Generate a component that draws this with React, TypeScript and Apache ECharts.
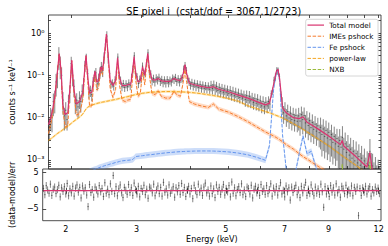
import React, { useEffect, useRef } from 'react';
import * as echarts from 'echarts';

const FONT = 'DejaVu Sans';
const X_MIN = 1.752, X_MAX = 12.16;
const Y_MIN = 6.1e-4, Y_MAX = 2.68;
const R_MIN = -8.3, R_MAX = 6;

const TITLE = 'SE pixel i  (cstat/dof = 3067.1/2723)';
const xTickLabels = [2, 3, 5, 7, 9, 12];
const xAllTicks = [2, 3, 4, 5, 6, 7, 8, 9, 10, 11, 12];
const yDecades = [1e-3, 1e-2, 1e-1, 1];
const residualTicks = [-5, 0, 5];
const legendNames = ['Total model', 'IMEs pshock', 'Fe pshock', 'power-law', 'NXB'];

const modelEnergy = [1.752, 1.78, 1.80, 1.82, 1.845, 1.865, 1.885, 1.905, 1.93, 1.96,
  1.985, 2.006, 2.03, 2.06, 2.10, 2.14, 2.165, 2.18, 2.20, 2.225,
  2.255, 2.285, 2.30, 2.32, 2.345, 2.375, 2.40, 2.43, 2.455, 2.48,
  2.51, 2.55, 2.59, 2.62, 2.65, 2.69, 2.74, 2.78, 2.83, 2.865,
  2.885, 2.91, 2.95, 2.99, 3.03, 3.07, 3.10, 3.125, 3.155, 3.20,
  3.26, 3.32, 3.38, 3.47, 3.56, 3.64, 3.70, 3.78, 3.84, 3.88,
  3.92, 3.98, 4.10, 4.26, 4.45, 4.58, 4.72, 5.0, 5.3, 5.6,
  5.9, 6.2, 6.35, 6.5, 6.6, 6.67, 6.74, 6.85, 7.0, 7.3,
  7.55, 7.72, 7.9, 8.1, 8.4, 9.0, 9.6, 9.7, 9.8, 10.5,
  11.2, 11.4, 11.55, 12.16];

const totalModel = [0.0068, 0.011, 0.018, 0.035, 0.12, 0.33, 0.13, 0.02, 0.0118, 0.013,
  0.05, 0.23, 0.05, 0.021, 0.024, 0.04, 0.15, 0.30, 0.10, 0.038,
  0.04, 0.10, 0.125, 0.07, 0.075, 0.16, 0.13, 0.35, 0.95, 0.30,
  0.075, 0.058, 0.075, 0.26, 0.09, 0.058, 0.057, 0.06, 0.062, 0.15,
  0.28, 0.12, 0.07, 0.075, 0.16, 0.10, 0.20, 0.33, 0.14, 0.08,
  0.077, 0.085, 0.074, 0.072, 0.072, 0.085, 0.078, 0.075, 0.11, 0.18,
  0.11, 0.065, 0.060, 0.055, 0.051, 0.054, 0.047, 0.041, 0.034, 0.029,
  0.024, 0.020, 0.022, 0.06, 0.12, 0.14, 0.08, 0.017, 0.013, 0.010,
  0.0095, 0.0105, 0.0078, 0.0068, 0.0055, 0.0036, 0.0023, 0.0029, 0.0021, 0.0012,
  0.00068, 0.0015, 0.0006, 0.0004];

const imesModel = [0.0042, 0.0078, 0.0145, 0.031, 0.115, 0.32, 0.125, 0.015, 0.006, 0.0065,
  0.043, 0.22, 0.042, 0.0115, 0.0125, 0.027, 0.135, 0.28, 0.082, 0.019,
  0.019, 0.078, 0.10, 0.045, 0.05, 0.135, 0.105, 0.32, 0.92, 0.27,
  0.048, 0.030, 0.046, 0.23, 0.059, 0.026, 0.024, 0.026, 0.027, 0.114,
  0.243, 0.083, 0.032, 0.036, 0.12, 0.06, 0.16, 0.29, 0.098, 0.038,
  0.035, 0.043, 0.032, 0.029, 0.029, 0.042, 0.035, 0.032, 0.068, 0.138,
  0.068, 0.024, 0.021, 0.019, 0.0175, 0.021, 0.016, 0.0135, 0.0105, 0.008,
  0.006, 0.0046, 0.0041, 0.0037, 0.0034, 0.0032, 0.003, 0.0027, 0.0023, 0.0018,
  0.0014, 0.0012, 0.00105, 0.0009, 0.00072, 0.00048, 0.00033, 0.00032, 0.0003, 0.0002,
  0.00014, 0.00013, 0.00012, 0.0001];

const fePshock = [0.00015, 0.00016, 0.00017, 0.00018, 0.00019, 0.0002, 0.00021, 0.00022, 0.00024, 0.00026,
  0.00028, 0.0003, 0.00032, 0.00035, 0.00039, 0.00043, 0.00046, 0.00048, 0.0005, 0.00053,
  0.00056, 0.00059, 0.0006, 0.00062, 0.00065, 0.00068, 0.0007, 0.00073, 0.00075, 0.00077,
  0.0008, 0.00083, 0.00087, 0.00089, 0.00092, 0.00095, 0.00097, 0.00098, 0.001, 0.00103,
  0.0011, 0.0012, 0.00122, 0.00124, 0.00126, 0.00128, 0.0013, 0.00131, 0.00132, 0.00134,
  0.00137, 0.0014, 0.00143, 0.00147, 0.0015, 0.00153, 0.00155, 0.00157, 0.00158, 0.00159,
  0.0016, 0.0016, 0.00162, 0.00163, 0.00163, 0.00162, 0.0016, 0.00155, 0.00145, 0.00132,
  0.00115, 0.00098, 0.0022, 0.045, 0.11, 0.13, 0.07, 0.004, 0.0006, 0.0003,
  0.0014, 0.0037, 0.0014, 0.0016, 0.0005, 0.00015, 0.0001, 0.0001, 0.0001, 0.0001,
  0.0001, 0.0001, 0.0001, 0.0001];

const powerLaw = [0.0029, 0.0032, 0.0035, 0.0038, 0.0042, 0.0045, 0.0048, 0.0052, 0.0057, 0.0063,
  0.0069, 0.0075, 0.0082, 0.009, 0.0103, 0.0122, 0.0145, 0.016, 0.0175, 0.0188,
  0.0198, 0.0206, 0.021, 0.0216, 0.0222, 0.0228, 0.0233, 0.0238, 0.0243, 0.0248,
  0.0254, 0.0262, 0.027, 0.0277, 0.0284, 0.0293, 0.0305, 0.0315, 0.0328, 0.0338,
  0.0344, 0.0352, 0.0362, 0.037, 0.0377, 0.0383, 0.0388, 0.0392, 0.0396, 0.0401,
  0.0406, 0.041, 0.0412, 0.0414, 0.0414, 0.0413, 0.0411, 0.0408, 0.0405, 0.0402,
  0.04, 0.0396, 0.0386, 0.037, 0.0348, 0.0333, 0.0316, 0.0282, 0.0245, 0.019,
  0.0163, 0.014, 0.013, 0.012, 0.0113, 0.0109, 0.0105, 0.0098, 0.0089, 0.0072,
  0.006, 0.0053, 0.0046, 0.004, 0.0032, 0.0021, 0.00135, 0.00125, 0.00117, 0.00075,
  0.00048, 0.00043, 0.0004, 0.00029];

const nxbModel = [0.00011, 0.00011, 0.00011, 0.00011, 0.00011, 0.00011, 0.00011, 0.00011, 0.00011, 0.00011,
  0.00011, 0.00011, 0.00011, 0.00011, 0.00011, 0.00011, 0.00011, 0.00011, 0.00011, 0.00011,
  0.00012, 0.00012, 0.00012, 0.00012, 0.00012, 0.00012, 0.00012, 0.00012, 0.00012, 0.00012,
  0.00012, 0.00012, 0.00012, 0.00012, 0.00012, 0.00012, 0.00012, 0.00012, 0.00012, 0.00012,
  0.00013, 0.00013, 0.00013, 0.00013, 0.00013, 0.00013, 0.00013, 0.00013, 0.00013, 0.00013,
  0.00013, 0.00013, 0.00013, 0.00013, 0.00013, 0.00013, 0.00013, 0.00013, 0.00013, 0.00013,
  0.00014, 0.00014, 0.00014, 0.00014, 0.00014, 0.00014, 0.00014, 0.00015, 0.00015, 0.00015,
  0.00016, 0.00016, 0.00016, 0.00016, 0.00016, 0.00016, 0.00016, 0.00017, 0.00017, 0.00017,
  0.00018, 0.00018, 0.00018, 0.00018, 0.00019, 0.0002, 0.0002, 0.0008, 0.0002, 0.00021,
  0.00022, 0.0009, 0.00022, 0.00023];

const dataEnergy = [1.760, 1.774, 1.788, 1.802, 1.817, 1.831, 1.846, 1.861, 1.876, 1.891,
  1.906, 1.921, 1.937, 1.952, 1.968, 1.984, 2.000, 2.016, 2.032, 2.048,
  2.065, 2.081, 2.098, 2.115, 2.132, 2.149, 2.166, 2.183, 2.201, 2.218,
  2.236, 2.254, 2.272, 2.291, 2.309, 2.327, 2.346, 2.365, 2.384, 2.403,
  2.422, 2.442, 2.461, 2.481, 2.501, 2.521, 2.541, 2.562, 2.582, 2.603,
  2.624, 2.645, 2.666, 2.688, 2.709, 2.731, 2.753, 2.775, 2.797, 2.820,
  2.842, 2.865, 2.888, 2.911, 2.935, 2.958, 2.982, 3.006, 3.030, 3.054,
  3.079, 3.104, 3.128, 3.154, 3.179, 3.204, 3.230, 3.256, 3.282, 3.308,
  3.335, 3.362, 3.389, 3.416, 3.443, 3.471, 3.499, 3.527, 3.555, 3.584,
  3.612, 3.641, 3.671, 3.700, 3.730, 3.760, 3.790, 3.820, 3.851, 3.882,
  3.913, 3.944, 3.976, 4.008, 4.040, 4.072, 4.105, 4.138, 4.171, 4.204,
  4.238, 4.272, 4.306, 4.341, 4.375, 4.410, 4.446, 4.481, 4.517, 4.553,
  4.590, 4.627, 4.664, 4.701, 4.739, 4.777, 4.815, 4.854, 4.893, 4.932,
  4.971, 5.011, 5.051, 5.092, 5.133, 5.174, 5.215, 5.257, 5.299, 5.341,
  5.384, 5.427, 5.471, 5.515, 5.559, 5.603, 5.648, 5.693, 5.739, 5.785,
  5.831, 5.878, 5.925, 5.972, 6.020, 6.068, 6.117, 6.166, 6.215, 6.265,
  6.315, 6.366, 6.416, 6.468, 6.520, 6.572, 6.624, 6.677, 6.731, 6.785,
  6.839, 6.894, 6.949, 7.005, 7.061, 7.117, 7.174, 7.232, 7.290, 7.348,
  7.407, 7.466, 7.526, 7.586, 7.647, 7.708, 7.770, 7.832, 7.895, 7.958,
  8.022, 8.086, 8.151, 8.216, 8.282, 8.348, 8.415, 8.482, 8.550, 8.618,
  8.687, 8.757, 8.827, 8.897, 8.969, 9.040, 9.113, 9.186, 9.259, 9.333,
  9.408, 9.483, 9.559, 9.636, 9.713, 9.790, 9.869, 9.948, 10.03, 10.11,
  10.19, 10.27, 10.35, 10.44, 10.52, 10.61, 10.69, 10.78, 10.86, 10.95,
  11.04, 11.13, 11.22, 11.31, 11.40, 11.49, 11.58, 11.67, 11.77, 11.86,
  11.96, 12.05];

const dataCounts = [0.0062, 0.011, 0.010, 0.024, 0.028, 0.07, 0.11, 0.30, 0.18, 0.10,
  0.026, 0.011, 0.015, 0.009, 0.024, 0.04, 0.19, 0.10, 0.055, 0.022,
  0.026, 0.018, 0.029, 0.024, 0.042, 0.06, 0.17, 0.25, 0.11, 0.04,
  0.044, 0.035, 0.07, 0.10, 0.115, 0.063, 0.085, 0.12, 0.16, 0.13,
  0.27, 0.55, 0.85, 0.27, 0.11, 0.062, 0.066, 0.056, 0.078, 0.12,
  0.27, 0.10, 0.077, 0.054, 0.064, 0.052, 0.063, 0.054, 0.066, 0.057,
  0.09, 0.14, 0.29, 0.11, 0.092, 0.064, 0.081, 0.085, 0.165, 0.11,
  0.12, 0.20, 0.34, 0.13, 0.108, 0.074, 0.085, 0.07, 0.087, 0.078,
  0.09, 0.072, 0.08, 0.067, 0.078, 0.066, 0.079, 0.067, 0.077, 0.07,
  0.086, 0.08, 0.089, 0.072, 0.083, 0.07, 0.084, 0.088, 0.14, 0.17,
  0.13, 0.083, 0.072, 0.059, 0.068, 0.056, 0.065, 0.054, 0.063, 0.052,
  0.061, 0.05, 0.059, 0.049, 0.057, 0.048, 0.056, 0.047, 0.058, 0.049,
  0.059, 0.048, 0.055, 0.044, 0.051, 0.042, 0.049, 0.04, 0.047, 0.039,
  0.045, 0.037, 0.044, 0.035, 0.042, 0.033, 0.04, 0.032, 0.038, 0.03,
  0.036, 0.029, 0.034, 0.027, 0.033, 0.026, 0.032, 0.025, 0.029, 0.023,
  0.028, 0.022, 0.027, 0.021, 0.025, 0.019, 0.024, 0.018, 0.023, 0.019,
  0.024, 0.021, 0.037, 0.043, 0.077, 0.093, 0.13, 0.128, 0.092, 0.035,
  0.021, 0.013, 0.016, 0.011, 0.014, 0.0098, 0.0128, 0.009, 0.0118, 0.0085,
  0.0113, 0.0082, 0.011, 0.0083, 0.0118, 0.009, 0.0112, 0.0075, 0.0092, 0.0065,
  0.0085, 0.0058, 0.0077, 0.0053, 0.007, 0.0048, 0.0064, 0.0044, 0.0059, 0.004,
  0.0054, 0.0036, 0.005, 0.0033, 0.0045, 0.003, 0.004, 0.0026, 0.0036, 0.0024,
  0.0032, 0.0021, 0.0029, 0.002, 0.0034, 0.0018, 0.0024, 0.0015, 0.0021, 0.0013,
  0.0018, 0.0011, 0.0016, 0.00095, 0.0014, 0.00085, 0.0012, 0.00075, 0.0011, 0.00068,
  0.00095, 0.00058, 0.00082, 0.00075, 0.0016, 0.00075, 0.00072, 0.00045, 0.0006, 0.00038,
  0.00052, 0.00035];

// fractional 1-sigma uncertainty of the spectrum, read per energy band (upper band edges in keV)
const errorBandEdge = [1.95, 2.15, 2.5, 3.3, 4.5, 5.5, 6.4, 6.8, 7.5, 8.5, 9.5, 10.5, 13];
const errorBandFrac = [0.55, 0.45, 0.3, 0.22, 0.22, 0.28, 0.33, 0.2, 0.45, 0.55, 0.7, 0.85, 0.95];

const residuals = [0.6, -1.1, 1.4, 0.2, -0.7, 1.8, -1.3, 0.4, 1.0, -0.8,
  0.3, 1.5, -1.7, 0.8, -0.2, 1.1, -0.9, 2.0, -1.4, 0.5,
  -0.6, 1.2, -1.5, 0.7, 1.6, -0.4, 0.9, -2.0, 1.3, -0.1,
  0.8, -1.2, -4.4, 1.7, -0.5, 0.3, -1.8, 1.0, 0.2, -0.9,
  1.4, -0.3, 0.6, -1.6, 2.2, -0.7, 0.4, -1.1, 1.9, -0.2,
  4.2, -0.8, 1.1, -1.4, 0.5, 1.6, -0.6, -1.9, 0.9, 0.1,
  -1.0, 1.7, -0.5, 0.8, -1.3, 2.1, 0.3, -0.9, 1.2, -1.7,
  0.6, -0.2, 1.5, -1.1, 0.4, -2.1, 1.0, 0.7, -0.6, 1.8,
  -1.4, 0.2, 1.3, -0.8, 0.9, -1.5, 2.3, -0.4, 0.5, -1.2,
  1.6, -0.7, 0.1, 1.1, -1.8, 0.8, -0.3, 1.4, -1.0, 2.0,
  -0.5, 0.9, -1.6, 0.3, 1.2, -0.9, 0.6, -2.2, 1.5, 0.0,
  -1.1, 1.8, -0.4, 0.7, -1.3, 1.0, 2.1, -0.6, 0.2, -1.5,
  1.3, -0.8, 0.5, -1.9, 1.6, -0.2, 0.9, -1.0, 0.4, 1.7,
  -1.2, 0.6, -0.3, 1.4, -1.7, 2.4, -0.7, 0.8, -1.4, 0.3,
  1.1, -0.5, 1.9, -1.1, 0.2, -1.6, 1.0, 0.6, -0.9, 1.5,
  -2.0, 0.4, 1.2, -0.6, 0.9, -1.3, 1.7, -0.2, 0.5, -1.0,
  1.4, -0.8, 0.3, 1.9, -1.5, 0.7, -0.4, 1.1, -1.2, 0.6,
  2.2, -0.9, 0.1, -1.7, 1.3, -0.3, 0.8, -2.6, 1.0, -0.5,
  0.6, 1.5, -1.1, 0.2, -1.9, 1.2, -0.6, 0.9, 2.3, -1.3,
  0.4, -0.8, 1.6, -0.2, -1.4, 1.0, -0.7, 0.5, -1.0, 1.8,
  -0.3, -4.6, 1.1, -0.9, 0.6, -1.6, 1.4, -0.4, 0.8, -1.2,
  1.9, -0.6, 0.3, -1.8, 1.2, 0.5, -0.8, 1.5, -1.1, 0.2,
  -0.7, 1.3, -1.4, 0.9, -0.2, 1.0, -6.9, 0.6, -1.3, 0.8,
  -0.4, 1.2, -0.9, 0.5, 1.1, -1.5, 0.3, -0.6, 1.0, -0.2,
  0.7, -0.8];

const PINK = '#d9336f';
const ORANGE = '#f57c2e';
const BLUE = '#6495ed';
const GOLD = '#f5a623';
const GREEN = '#9bbb3c';
const GRAY = 'rgba(35,35,35,0.62)';
const AXIS = '#222';

const SUP: Record<string, string> = { '-': '\u207b', '0': '\u2070', '1': '\u00b9', '2': '\u00b2', '3': '\u00b3' };
const supText = (n: number) => String(n).split('').map((c) => SUP[c] || c).join('');

function errFracAt(e: number) {
  for (let i = 0; i < errorBandEdge.length; i++) if (e < errorBandEdge[i]) return errorBandFrac[i];
  return errorBandFrac[errorBandFrac.length - 1];
}

function buildOption() {
  const yAllTicks: number[] = [];
  for (let n = -4; n <= 0; n++) {
    for (let k = 1; k <= 9; k++) {
      const v = k * Math.pow(10, n);
      if (v > Y_MIN && v < Y_MAX) yAllTicks.push(v);
    }
  }
  const tickLine = { color: AXIS, width: 0.8 };
  const labelStyle = { fontFamily: FONT, fontSize: 8, color: '#000' };
  const nameStyle = { fontFamily: FONT, fontSize: 8, color: '#000' };

  const base = (extra: any) => ({
    axisLine: { show: false }, splitLine: { show: false }, axisLabel: { show: false },
    ...extra,
  });

  const xAxis: any[] = [
    base({ type: 'log', gridIndex: 0, position: 'bottom', min: X_MIN, max: X_MAX,
      axisTick: { show: true, inside: true, length: 3, customValues: xAllTicks, lineStyle: tickLine } }),
    base({ type: 'log', gridIndex: 0, position: 'top', min: X_MIN, max: X_MAX,
      axisTick: { show: true, inside: true, length: 3, customValues: xAllTicks, lineStyle: tickLine } }),
    base({ type: 'log', gridIndex: 1, position: 'bottom', min: X_MIN, max: X_MAX,
      axisTick: { show: true, inside: true, length: 3, customValues: xAllTicks, lineStyle: tickLine },
      axisLabel: { show: true, customValues: xTickLabels, margin: 4.5, formatter: (v: number) => String(Math.round(v)), ...labelStyle },
      name: 'Energy (keV)', nameLocation: 'middle', nameGap: 15, nameTextStyle: nameStyle }),
    base({ type: 'log', gridIndex: 1, position: 'top', min: X_MIN, max: X_MAX,
      axisTick: { show: true, inside: true, length: 3, customValues: xAllTicks, lineStyle: tickLine } }),
  ];

  const yAxis: any[] = [
    base({ type: 'log', gridIndex: 0, position: 'left', min: Y_MIN, max: Y_MAX,
      axisTick: { show: true, inside: true, length: 2.5, customValues: yAllTicks, lineStyle: tickLine },
      axisLabel: { show: true, customValues: yDecades, margin: 4, formatter: (v: number) => '10' + supText(Math.round(Math.log10(v))), ...labelStyle },
      name: 'counts s\u207b\u00b9 keV\u207b\u00b9', nameLocation: 'middle', nameGap: 22, nameTextStyle: nameStyle }),
    base({ type: 'log', gridIndex: 0, position: 'right', min: Y_MIN, max: Y_MAX,
      axisTick: { show: true, inside: true, length: 2.5, customValues: yAllTicks, lineStyle: tickLine } }),
    base({ type: 'value', gridIndex: 1, position: 'left', min: R_MIN, max: R_MAX,
      axisTick: { show: true, inside: true, length: 3.5, customValues: residualTicks, lineStyle: tickLine },
      axisLabel: { show: true, customValues: residualTicks, margin: 4, formatter: (v: number) => String(v).replace('-', '\u2212'), ...labelStyle },
      name: '(data-model)/err', nameLocation: 'middle', nameGap: 22, nameTextStyle: nameStyle }),
    base({ type: 'value', gridIndex: 1, position: 'right', min: R_MIN, max: R_MAX,
      axisTick: { show: true, inside: true, length: 3.5, customValues: residualTicks, lineStyle: tickLine } }),
  ];

  const band = (vals: number[], frac: number, color: string) => ({
    type: 'custom', xAxisIndex: 0, yAxisIndex: 0, clip: true, silent: true, z: 1,
    data: [[modelEnergy[0], vals[0]]],
    renderItem: (_p: any, api: any) => {
      const up = modelEnergy.map((e, i) => api.coord([e, vals[i] * frac]));
      const lo = modelEnergy.map((e, i) => api.coord([e, vals[i] / frac])).reverse();
      return { type: 'polygon', shape: { points: up.concat(lo) }, style: { fill: color } };
    },
  });

  const line = (vals: number[], color: string, width: number, dashed: boolean, z: number) => ({
    type: 'line', xAxisIndex: 0, yAxisIndex: 0, symbol: 'none', z, silent: true,
    data: modelEnergy.map((e, i) => [e, vals[i]]),
    lineStyle: { color, width, type: dashed ? [3.5, 1.6] : 'solid' },
  });

  const nD = dataEnergy.length;
  const edges = dataEnergy.map((e, i) => [
    i > 0 ? Math.sqrt(dataEnergy[i - 1] * e) : e * 0.996,
    i < nD - 1 ? Math.sqrt(e * dataEnergy[i + 1]) : e * 1.004,
  ]);
  const spectrumItems = dataEnergy.map((e, i) => {
    const y = dataCounts[i];
    const err = y * errFracAt(e);
    return [e, y, Math.max(y - err, 1e-6), y + err, edges[i][0], edges[i][1]];
  });
  const residualItems = dataEnergy.map((e, i) => {
    const r = residuals[i];
    return [e, r, r - 1, r + 1, edges[i][0], edges[i][1]];
  });
  const errRender = (_p: any, api: any) => {
    const e = api.value(0), y = api.value(1);
    const top = api.coord([e, api.value(3)]);
    const bot = api.coord([e, api.value(2)]);
    const l = api.coord([api.value(4), y]);
    const r = api.coord([api.value(5), y]);
    const style = { stroke: GRAY, lineWidth: 0.9 };
    return {
      type: 'group', children: [
        { type: 'line', shape: { x1: top[0], y1: top[1], x2: bot[0], y2: bot[1] }, style },
        { type: 'line', shape: { x1: l[0], y1: l[1], x2: r[0], y2: r[1] }, style },
      ],
    };
  };

  const series: any[] = [
    band(imesModel, 1.13, 'rgba(255,127,42,0.28)'),
    band(fePshock, 1.18, 'rgba(100,149,237,0.32)'),
    band(powerLaw, 1.07, 'rgba(255,176,0,0.3)'),
    { type: 'custom', name: 'data', xAxisIndex: 0, yAxisIndex: 0, clip: true, silent: true, z: 2,
      data: spectrumItems, renderItem: errRender },
    line(nxbModel, GREEN, 1, true, 3),
    line(powerLaw, GOLD, 1, true, 3),
    line(fePshock, BLUE, 1, true, 3),
    line(imesModel, ORANGE, 1, true, 3),
    line(totalModel, PINK, 1.2, false, 4),
    { type: 'custom', name: 'residuals', xAxisIndex: 2, yAxisIndex: 2, clip: true, silent: true, z: 2,
      data: residualItems, renderItem: errRender },
    { type: 'line', xAxisIndex: 2, yAxisIndex: 2, symbol: 'none', z: 4, silent: true,
      data: dataEnergy.map((e) => [e, 0]), lineStyle: { color: PINK, width: 1.2 } },
  ];

  const legendColors = [PINK, ORANGE, BLUE, GOLD, GREEN];
  const lgX = 305.7, lgY = 19.3, rowH = 11.1;
  const legendChildren: any[] = [
    { type: 'rect', shape: { x: lgX, y: lgY, width: 72.3, height: 56.7, r: 2 },
      style: { fill: 'rgba(255,255,255,0.85)', stroke: '#cccccc', lineWidth: 0.8 } },
  ];
  legendNames.forEach((name, i) => {
    const cy = lgY + 5.8 + i * rowH;
    legendChildren.push({ type: 'line', shape: { x1: lgX + 1.8, y1: cy, x2: lgX + 18.3, y2: cy },
      style: { stroke: legendColors[i], lineWidth: i === 0 ? 1.2 : 1, lineDash: i === 0 ? null : [3.5, 1.6] } });
    legendChildren.push({ type: 'text', x: lgX + 23.5, y: cy,
      style: { text: name, fontFamily: FONT, fontSize: 7.2, fill: '#000', textVerticalAlign: 'middle', textAlign: 'left' } });
  });

  return {
    animation: false,
    backgroundColor: '#fff',
    title: { text: TITLE, left: 208.75, top: 1.5, textAlign: 'center',
      textStyle: { fontFamily: FONT, fontSize: 9.6, fontWeight: 'normal', color: '#000' } },
    grid: [
      { left: 36.5, right: 7, top: 15, height: 154, show: true, borderColor: AXIS, borderWidth: 0.8, containLabel: false },
      { left: 36.5, right: 7, top: 169, height: 51.7, show: true, borderColor: AXIS, borderWidth: 0.8, containLabel: false },
    ],
    xAxis, yAxis, series,
    graphic: [{ type: 'group', z: 100, children: legendChildren }],
  };
}

export default function App() {
  const ref = useRef<HTMLDivElement>(null);
  useEffect(() => {
    if (!ref.current) return;
    const chart = echarts.init(ref.current, undefined, { renderer: 'svg' });
    chart.setOption(buildOption() as any);
    return () => chart.dispose();
  }, []);
  return <div ref={ref} style={{ position: 'fixed', left: 0, top: 0, width: 388, height: 246 }} />;
}
